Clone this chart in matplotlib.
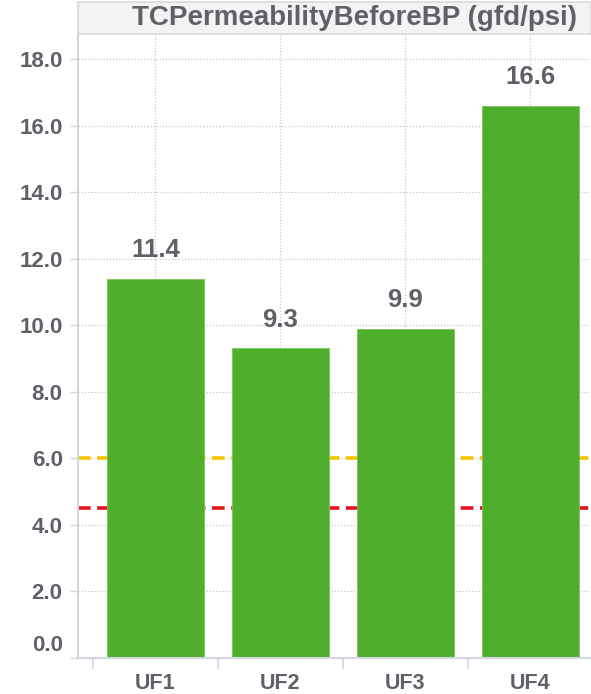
import matplotlib.pyplot as plt
from matplotlib.patches import Rectangle
from matplotlib.transforms import ScaledTranslation

plt.rcParams['font.family'] = ['Liberation Sans', 'DejaVu Sans']

categorias = ["UF1", "UF2", "UF3", "UF4"]
valores = [11.4, 9.3, 9.9, 16.6]
rotulos = ["11.4", "9.3", "9.9", "16.6"]
yticks = [0, 2, 4, 6, 8, 10, 12, 14, 16, 18]
limite_alerta = 6.0
limite_critico = 4.5
titulo = "TCPermeabilityBeforeBP (gfd/psi)"

cinza_texto = "#5f6169"
cinza_eixo = "#d3d6de"
verde = "#4fae2b"

W, H = 591, 694
fig = plt.figure(figsize=(W / 100, H / 100), dpi=100)
ax = fig.add_axes([78 / W, (H - 658) / H, 1 - 78 / W, (658 - 34) / H])

x = list(range(len(categorias)))

# linhas de limite ficam atrás das barras
ax.axhline(limite_alerta, color="#f5c400", lw=2.6, ls=(0, (3.5, 1.8)), zorder=1)
ax.axhline(limite_critico, color="#e3141c", lw=2.6, ls=(0, (3.5, 1.8)), zorder=1)

ax.bar(x, valores, width=0.78, color=verde, edgecolor="#7cc45e", linewidth=0.6, zorder=2)

for xi, v, r in zip(x, valores, rotulos):
    ax.annotate(r, (xi, v), xytext=(0, 12), textcoords="offset points",
                ha="center", va="bottom", fontsize=18.5, fontweight="bold",
                color=cinza_texto)

ax.set_xlim(-0.62, 3.485)
ax.set_ylim(0, 18.75)

# grade pontilhada
ax.set_yticks(yticks)
ax.set_yticklabels([f"{t:.1f}" for t in yticks])
ax.set_xticks(x)
ax.set_xticklabels(categorias)
ax.set_xticks([-0.5, 0.5, 1.5, 2.5], minor=True)
ax.grid(True, which="major", color="#c9c9c9", ls=(0, (1, 1.5)), lw=0.9, zorder=0)
ax.set_axisbelow(True)

ax.tick_params(axis="y", which="major", length=6, width=1, color=cinza_eixo,
               labelsize=16, labelcolor=cinza_texto, pad=5)
ax.tick_params(axis="x", which="major", length=0, labelsize=15.5,
               labelcolor=cinza_texto, pad=10.5)
ax.tick_params(axis="x", which="minor", length=8, width=1.2, color=cinza_eixo)
for lbl in ax.get_xticklabels() + ax.get_yticklabels():
    lbl.set_fontweight("bold")

# sobe o rótulo do zero para não encostar no eixo
primeiro = ax.get_yticklabels()[0]
primeiro.set_transform(primeiro.get_transform() + ScaledTranslation(0, 15 / 100, fig.dpi_scale_trans))

for lado in ["top", "right"]:
    ax.spines[lado].set_visible(False)
for lado in ["left", "bottom"]:
    ax.spines[lado].set_color(cinza_eixo)
    ax.spines[lado].set_linewidth(1.5)

# faixa do título
fig.patches.append(Rectangle((78 / W, (H - 34) / H), 1 - 78 / W, 32 / H,
                             transform=fig.transFigure, facecolor="#f3f3f3",
                             edgecolor="#d9d9d9", linewidth=1.2, zorder=0))
fig.text(354 / W, (H - 18) / H, titulo, ha="center", va="center",
         fontsize=20, fontweight="bold", color=cinza_texto)

fig.savefig("out.png", dpi=100)
